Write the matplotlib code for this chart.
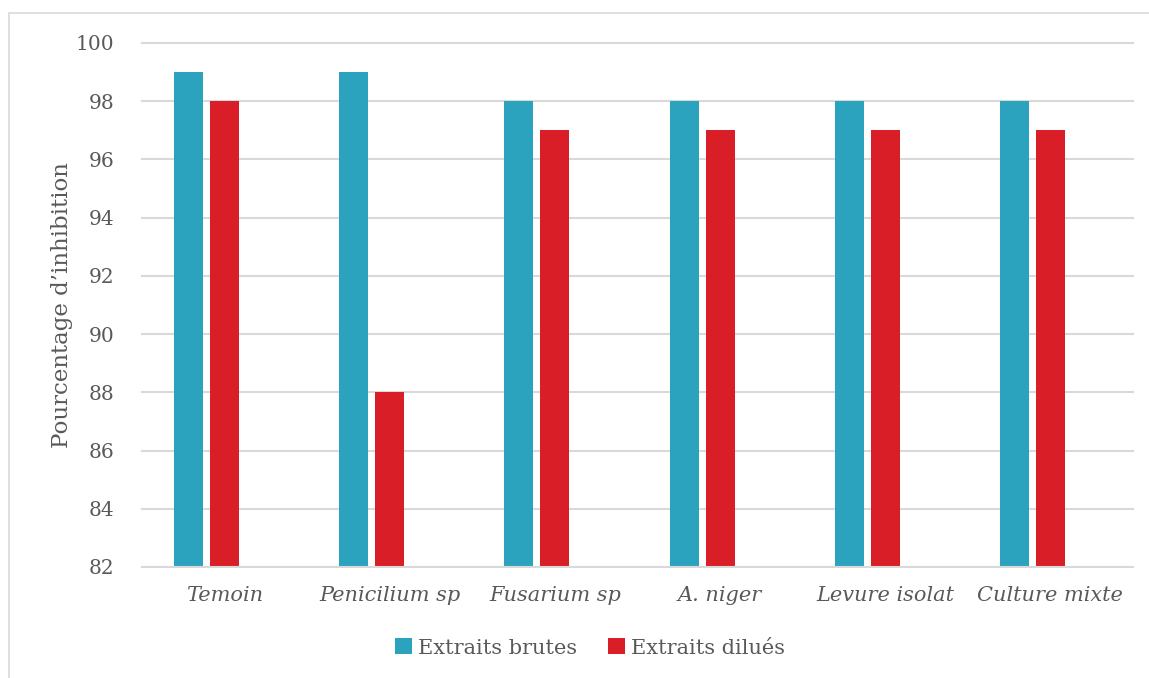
import numpy as np
import matplotlib.pyplot as plt
from matplotlib.patches import Rectangle

categories = ["Temoin", "Penicilium sp", "Fusarium sp", "A. niger", "Levure isolat", "Culture mixte"]
extraits_brutes = [99, 99, 98, 98, 98, 98]
extraits_dilues = [98, 88, 97, 97, 97, 97]
yticks = [82, 84, 86, 88, 90, 92, 94, 96, 98, 100]

BLUE = "#2BA3BF"
RED = "#DA1E28"
GRID = "#D9D9D9"
TEXT = "#595959"

plt.rcParams["font.family"] = ["DejaVu Serif"]

fig = plt.figure(figsize=(11.49, 6.78), dpi=100)
W, H = 1149, 678

# outer chart frame (runs off the right and bottom edges)
fig.patches.append(Rectangle((9 / W, -0.05), 1.2, 1 - 13 / H + 0.05,
                             transform=fig.transFigure, fill=False,
                             edgecolor=GRID, linewidth=1.2))

ax = fig.add_axes([142 / W, 1 - 567 / H, (1133 - 142) / W, (567 - 43) / H])

x = np.arange(len(categories))
width = 0.176
step = 0.218
ax.bar(x - step, [v - 82 for v in extraits_brutes], width, bottom=82,
       color=BLUE, label="Extraits brutes", zorder=3)
ax.bar(x, [v - 82 for v in extraits_dilues], width, bottom=82,
       color=RED, label="Extraits dilués", zorder=3)

ax.set_xlim(-0.5, len(categories) - 0.5)
ax.set_ylim(82, 100)
ax.set_yticks(yticks)
for s in ax.spines.values():
    s.set_visible(False)
# horizontal gridlines, drawn unclipped so the top and bottom ones keep full width
for yv in yticks:
    ax.axhline(yv, color=GRID, linewidth=1.5, zorder=0 if yv > 82 else 4, clip_on=False)

ax.set_xticks(x)
ax.set_xticklabels(categories, fontstyle="italic", fontsize=15, color=TEXT)
ax.tick_params(axis="x", length=0, pad=14)
ax.tick_params(axis="y", length=0, pad=20, labelsize=14.5, labelcolor=TEXT)

fig.text(62 / W, 1 - 305 / H, "Pourcentage d\u2019inhibition", rotation=90,
         ha="center", va="center", fontsize=16.5, color=TEXT)

fig.legend(loc="center", bbox_to_anchor=(590 / W, 1 - 648 / H), ncol=2,
           frameon=False, fontsize=15, labelcolor=TEXT,
           handlelength=0.8, handleheight=0.8, handletextpad=0.3,
           columnspacing=1.5)

fig.savefig("out.png", dpi=100)
